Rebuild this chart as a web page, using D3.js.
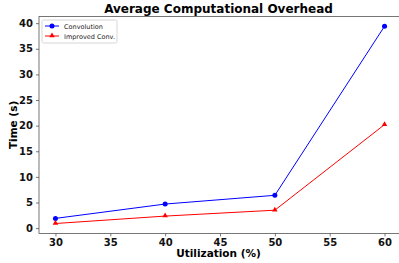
<!DOCTYPE html>
<html>
<head>
<meta charset="utf-8">
<script src="https://cdn.jsdelivr.net/npm/d3@7"></script>
<style>
  body { margin: 0; background: #fff; }
  text { font-family: "DejaVu Sans", sans-serif; }
</style>
</head>
<body>
<script>
var utilization = [30, 40, 50, 60];
var convolution = [1.9, 4.7, 6.4, 39.4];
var improvedConv = [0.9, 2.35, 3.5, 20.2];
var xTicks = [30, 35, 40, 45, 50, 55, 60];
var yTicks = [0, 5, 10, 15, 20, 25, 30, 35, 40];

var width = 399, height = 263,
    plotLeft = 39, plotRight = 401, plotTop = 16.5, plotBottom = 233.4;

var svg = d3.select("body").append("svg")
    .attr("width", width)
    .attr("height", height);

var x = d3.scaleLinear().domain([28.5, 61.5]).range([plotLeft, plotRight]);
var y = d3.scaleLinear().domain([-1.03, 41.3]).range([plotBottom, plotTop]);

// frame
svg.append("rect")
    .attr("x", plotLeft).attr("y", plotTop)
    .attr("width", plotRight - plotLeft).attr("height", plotBottom - plotTop)
    .attr("fill", "none").attr("stroke", "#555").attr("stroke-width", 0.8);

var xAxis = svg.append("g")
    .attr("transform", "translate(0," + plotBottom + ")")
    .call(d3.axisBottom(x).tickValues(xTicks).tickSize(3).tickPadding(3));
var yAxis = svg.append("g")
    .attr("transform", "translate(" + plotLeft + ",0)")
    .call(d3.axisLeft(y).tickValues(yTicks).tickSize(3).tickPadding(3));

[xAxis, yAxis].forEach(function (a) {
    a.select(".domain").remove();
    a.selectAll("line").attr("stroke", "#555").attr("stroke-width", 0.8);
    a.selectAll("text")
        .attr("font-size", 10).attr("font-weight", "bold")
        .attr("fill", "#111").style("font-family", "DejaVu Sans");
});

var line = d3.line()
    .x(function (d) { return x(d[0]); })
    .y(function (d) { return y(d[1]); });

var series = [
    { name: "Convolution", values: convolution, color: "#0000ff", marker: "circle" },
    { name: "Improved Conv.", values: improvedConv, color: "#ff0000", marker: "triangle" }
];

function drawMarker(g, kind, cx, cy, color) {
    if (kind === "circle") {
        g.append("circle").attr("cx", cx).attr("cy", cy).attr("r", 2.5).attr("fill", color);
    } else {
        g.append("path")
            .attr("d", d3.symbol().type(d3.symbolTriangle).size(13)())
            .attr("transform", "translate(" + cx + "," + (cy - 0.3) + ")")
            .attr("fill", color);
    }
}

series.forEach(function (s) {
    var pts = utilization.map(function (u, i) { return [u, s.values[i]]; });
    svg.append("path")
        .attr("d", line(pts))
        .attr("fill", "none")
        .attr("stroke", s.color)
        .attr("stroke-width", 1);
    var g = svg.append("g");
    pts.forEach(function (p) { drawMarker(g, s.marker, x(p[0]), y(p[1]), s.color); });
});

// legend
var lg = svg.append("g").attr("transform", "translate(42,20)");
lg.append("rect")
    .attr("width", 75).attr("height", 23).attr("rx", 1.5)
    .attr("fill", "#fff").attr("stroke", "#ccc").attr("stroke-width", 0.8);
series.forEach(function (s, i) {
    var yy = 6 + i * 10;
    lg.append("line").attr("x1", 3).attr("x2", 17).attr("y1", yy).attr("y2", yy)
        .attr("stroke", s.color).attr("stroke-width", 1);
    drawMarker(lg, s.marker, 10, yy, s.color);
    lg.append("text").attr("x", 22).attr("y", yy + 2.5)
        .attr("font-size", 6.5).attr("fill", "#222").text(s.name);
});

// titles
svg.append("text")
    .attr("x", (plotLeft + 398) / 2).attr("y", 13)
    .attr("text-anchor", "middle")
    .attr("font-size", 12).attr("font-weight", "bold")
    .text("Average Computational Overhead");

svg.append("text")
    .attr("x", (plotLeft + 398) / 2).attr("y", 257)
    .attr("text-anchor", "middle")
    .attr("font-size", 10.5).attr("font-weight", "bold")
    .text("Utilization (%)");

svg.append("text")
    .attr("transform", "translate(17," + ((plotTop + plotBottom) / 2) + ") rotate(-90)")
    .attr("text-anchor", "middle")
    .attr("font-size", 10.5).attr("font-weight", "bold")
    .text("Time (s)");
</script>
</body>
</html>
